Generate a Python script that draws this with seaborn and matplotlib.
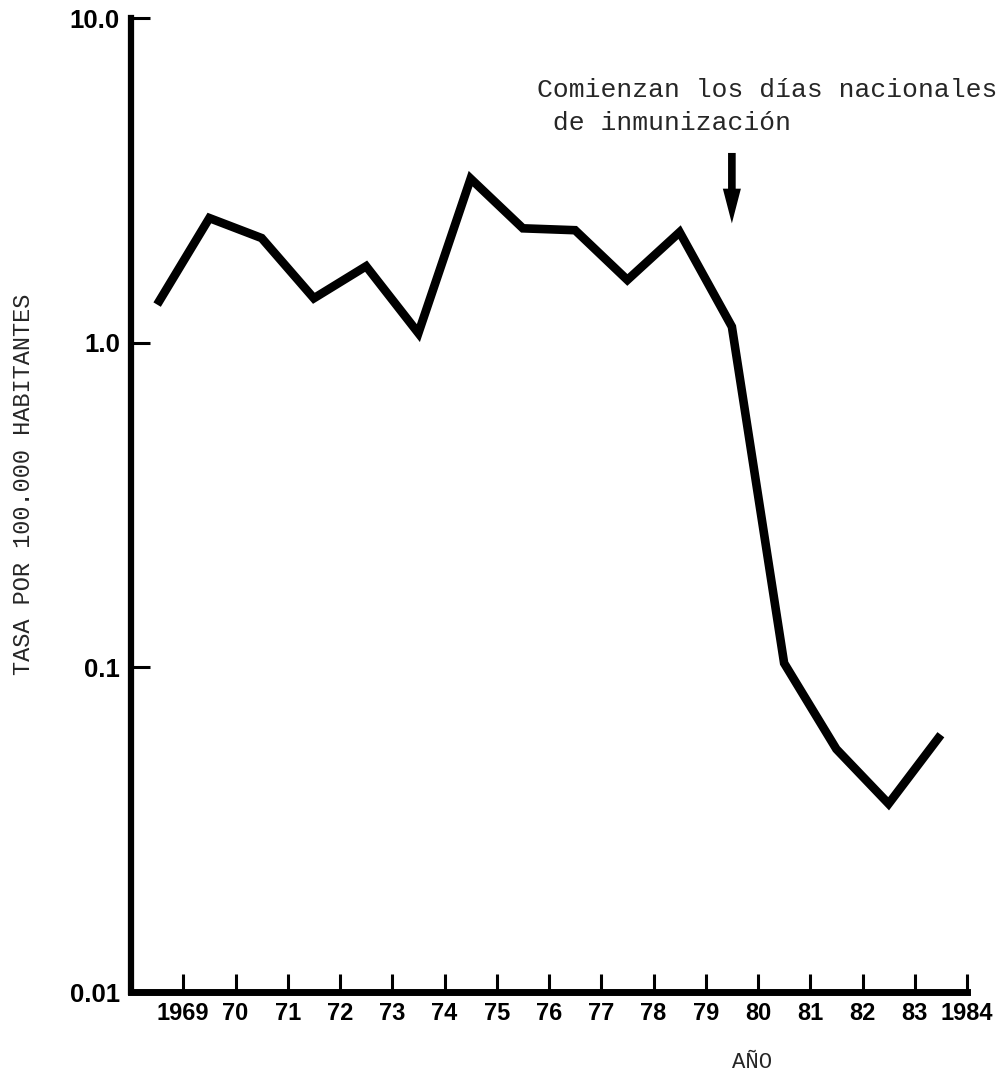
import matplotlib
matplotlib.use("Agg")
import matplotlib.pyplot as plt
from matplotlib import font_manager
import seaborn as sns
import pandas as pd

# Tasa anual por 100.000 habitantes
anios = [1969, 1970, 1971, 1972, 1973, 1974, 1975, 1976,
         1977, 1978, 1979, 1980, 1981, 1982, 1983, 1984]
tasa = [1.31, 2.42, 2.10, 1.37, 1.72, 1.07, 3.20, 2.25,
        2.22, 1.56, 2.19, 1.12, 0.103, 0.056, 0.038, 0.062]

etiquetas_x = ["1969", "70", "71", "72", "73", "74", "75", "76",
               "77", "78", "79", "80", "81", "82", "83", "1984"]
ticks_y = [0.01, 0.1, 1.0, 10.0]
etiquetas_y = ["0.01", "0.1", "1.0", "10.0"]

anio_inicio_dni = 1980  # comienzo de los días nacionales de inmunización

df = pd.DataFrame({"anio": anios, "tasa": tasa})
# cada año se dibuja en el centro del intervalo que termina en su marca
df["pos"] = df["anio"] - 0.5

sns.set_style("ticks")

# fuente estrecha y negrita para las cifras de los ejes, si está disponible
disponibles = {f.name for f in font_manager.fontManager.ttflist}
if "Liberation Sans Narrow" in disponibles:
    fuente_ejes, talla_x, talla_y = "Liberation Sans Narrow", 20, 21
else:
    fuente_ejes, talla_x, talla_y = "Liberation Sans", 17, 18.5

W, H = 1005, 1085
fig = plt.figure(figsize=(W / 100, H / 100), dpi=100)
ax = fig.add_axes([131 / W, 1 - 992 / H, (967 - 131) / W, (992 - 18) / H])

sns.lineplot(data=df, x="pos", y="tasa", ax=ax, color="black",
             linewidth=6.2, estimator=None, sort=False)
for ln in ax.get_lines():
    ln.set_solid_joinstyle("miter")
    ln.set_solid_capstyle("butt")

ax.set_yscale("log")
ax.set_xlim(anios[0] - 1, anios[-1])
ax.set_ylim(ticks_y[0], ticks_y[-1])

ax.set_xticks(anios)
ax.set_xticklabels(etiquetas_x)
ax.set_yticks(ticks_y)
ax.set_yticklabels(etiquetas_y)
ax.yaxis.set_minor_locator(matplotlib.ticker.NullLocator())
ax.xaxis.set_minor_locator(matplotlib.ticker.NullLocator())

for lab in ax.get_xticklabels():
    lab.set_fontfamily(fuente_ejes)
    lab.set_fontweight("bold")
    lab.set_fontsize(talla_x)
    lab.set_color("black")
for lab in ax.get_yticklabels():
    lab.set_fontfamily(fuente_ejes)
    lab.set_fontweight("bold")
    lab.set_fontsize(talla_y)
    lab.set_color("black")

ax.tick_params(axis="x", direction="in", length=13, width=2.2, pad=7,
               color="black")
ax.tick_params(axis="y", direction="in", length=14, width=2.2, pad=8,
               color="black")

sns.despine(ax=ax)
ax.spines["left"].set_linewidth(4.5)
ax.spines["bottom"].set_linewidth(5)
ax.spines["left"].set_color("black")
ax.spines["bottom"].set_color("black")
ax.set_xlabel("")
ax.set_ylabel("")
ax.set_facecolor("white")

mono = "Liberation Mono"
fig.text(24 / W, 1 - 484 / H, "TASA POR 100.000 HABITANTES", rotation=90,
         ha="center", va="center", fontfamily=mono, fontsize=17)
fig.text(752 / W, 1 - 1062 / H, "AÑO", ha="center", va="center",
         fontfamily=mono, fontsize=16)

fig.text(537 / W, 1 - 97 / H, "Comienzan los días nacionales",
         ha="left", va="baseline", fontfamily=mono, fontsize=19)
fig.text(537 / W, 1 - 130 / H, " de inmunización",
         ha="left", va="baseline", fontfamily=mono, fontsize=19)

ax.annotate("", xy=(anio_inicio_dni - 0.5, 2.33),
            xytext=(anio_inicio_dni - 0.5, 3.84),
            arrowprops=dict(arrowstyle="simple,head_length=2.5,head_width=1.3,tail_width=0.55",
                            mutation_scale=10, fc="black", ec="black", lw=0,
                            shrinkA=0, shrinkB=0),
            annotation_clip=False)

fig.savefig("out.png", dpi=100, facecolor="white")
